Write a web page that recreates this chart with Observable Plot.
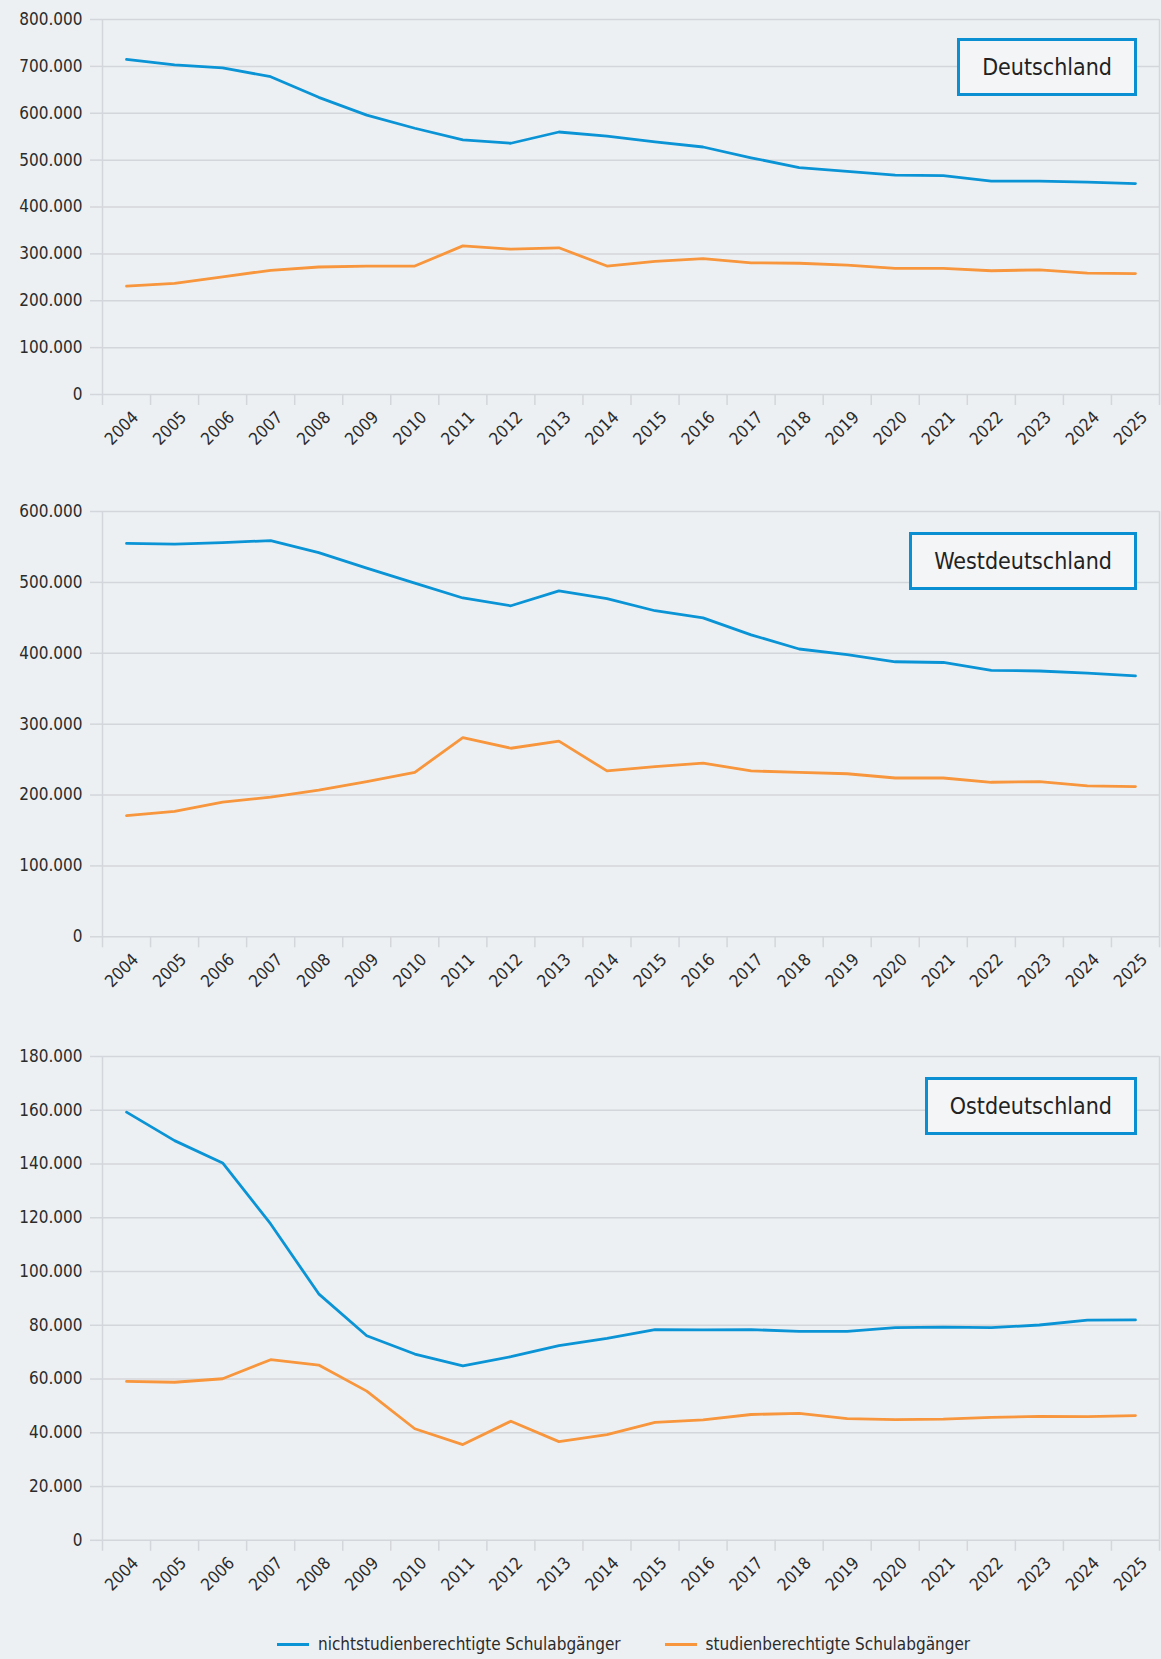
<!DOCTYPE html>
<html>
<head>
<meta charset="utf-8">
<script src="https://cdn.jsdelivr.net/npm/d3@7"></script>
<script src="https://cdn.jsdelivr.net/npm/@observablehq/plot@0.6"></script>
<style>
  html, body { margin: 0; padding: 0; background: #edf0f3; }
  #wrap { position: relative; width: 1161px; height: 1659px; background: #edf0f3; overflow: hidden;
    font-family: "DejaVu Sans Condensed", "DejaVu Sans", sans-serif; font-stretch: condensed; color: #2b2b2b; }
  .panel { position: absolute; left: 0; }
  .box { position: absolute; right: 24px; height: 52px; line-height: 52px; padding: 0 22px;
    border: 3px solid #0a90d2; background: #f4f5f6; font-size: 23px; color: #222; white-space: nowrap; }
  #legend { position: absolute; top: 1634px; left: 277px; display: flex; align-items: center; font-size: 17px; color: #2b2b2b; white-space: nowrap; }
  #legend .sw { display: inline-block; width: 32px; height: 3px; margin-right: 9px; }
  #legend .item { display: flex; align-items: center; margin-right: 44px; }
</style>
</head>
<body>
<div id="wrap"></div>
<script>
// ---- data ----
const years = [2004, 2005, 2006, 2007, 2008, 2009, 2010, 2011, 2012, 2013, 2014, 2015, 2016, 2017, 2018, 2019, 2020, 2021, 2022, 2023, 2024, 2025];
const seriesNames = ["nichtstudienberechtigte Schulabgänger", "studienberechtigte Schulabgänger"];
const seriesColors = ["#0a94d6", "#f7963c"];
const regionNames = ["Deutschland", "Westdeutschland", "Ostdeutschland"];

const deNicht = [715000, 703000, 697000, 678000, 634000, 596000, 568000, 543000, 536000, 560000, 551000, 539000, 528000, 505000, 484000, 476000, 468000, 467000, 455000, 455000, 453000, 450000];
const deStud  = [231000, 237000, 251000, 265000, 272000, 274000, 274000, 317000, 310000, 313000, 274000, 284000, 290000, 281000, 280000, 276000, 269000, 269000, 264000, 266000, 259000, 258000];

const westNicht = [555000, 554000, 556000, 559000, 542000, 520000, 499000, 478000, 467000, 488000, 477000, 460000, 450000, 426000, 406000, 398000, 388000, 387000, 376000, 375000, 372000, 368000];
const westStud  = [171000, 177000, 190000, 197000, 207000, 219000, 232000, 281000, 266000, 276000, 234000, 240000, 245000, 234000, 232000, 230000, 224000, 224000, 218000, 219000, 213000, 212000];

const ostNicht = [159300, 148700, 140400, 117700, 91700, 76100, 69300, 64900, 68300, 72400, 75100, 78400, 78300, 78400, 77700, 77700, 79100, 79300, 79100, 80100, 81900, 82000];
const ostStud  = [59100, 58800, 60100, 67200, 65200, 55500, 41500, 35600, 44300, 36700, 39300, 43900, 44800, 46800, 47200, 45300, 44900, 45100, 45700, 46100, 46000, 46400];

const deTicks   = [0, 100000, 200000, 300000, 400000, 500000, 600000, 700000, 800000];
const westTicks = [0, 100000, 200000, 300000, 400000, 500000, 600000];
const ostTicks  = [0, 20000, 40000, 60000, 80000, 100000, 120000, 140000, 160000, 180000];

// ---- layout ----
const W = 1161;
const gridColor = "#d3d6da";
const textColor = "#2b2b2b";
const fmt = d => d3.format(",")(d).replace(/,/g, ".");
const bounds = years.map(y => y - 0.5).concat([years[years.length - 1] + 0.5]);

const panels = [
  {name: regionNames[0], nicht: deNicht, stud: deStud, ticks: deTicks, gridTop: 19, gridBottom: 394, boxTop: 38},
  {name: regionNames[1], nicht: westNicht, stud: westStud, ticks: westTicks, gridTop: 510.7, gridBottom: 936, boxTop: 531.7},
  {name: regionNames[2], nicht: ostNicht, stud: ostStud, ticks: ostTicks, gridTop: 1056.2, gridBottom: 1540, boxTop: 1077}
];

const wrap = document.getElementById("wrap");
const mTop = 15, mBottom = 62;

panels.forEach(p => {
  const rows = [];
  years.forEach((y, i) => {
    rows.push({year: y, value: p.nicht[i], series: seriesNames[0]});
    rows.push({year: y, value: p.stud[i], series: seriesNames[1]});
  });
  const plotH = p.gridBottom - p.gridTop;
  const chart = Plot.plot({
    width: W,
    height: mTop + plotH + mBottom,
    marginTop: mTop,
    marginBottom: mBottom,
    marginLeft: 102,
    marginRight: 2,
    style: {background: "transparent", fontFamily: '"DejaVu Sans Condensed", "DejaVu Sans", sans-serif', fontStretch: "condensed", fontSize: "17px", color: textColor},
    x: {type: "linear", domain: [years[0] - 0.5, years[years.length - 1] + 0.5], axis: null},
    y: {domain: [0, p.ticks[p.ticks.length - 1]], axis: null},
    color: {domain: seriesNames, range: seriesColors},
    marks: [
      Plot.gridY(p.ticks, {stroke: gridColor, strokeOpacity: 1, strokeWidth: 1.5}),
      Plot.ruleX([bounds[0], bounds[bounds.length - 1]], {stroke: gridColor, strokeWidth: 1.5}),
      Plot.axisY({ticks: p.ticks, tickSize: 12, tickPadding: 8, tickFormat: fmt, stroke: gridColor, strokeWidth: 1.5, fill: textColor, label: null}),
      Plot.axisX({ticks: bounds, tickSize: 11, tickFormat: () => "", stroke: gridColor, strokeWidth: 1.5, label: null}),
      Plot.axisX({ticks: years, tickSize: 0, tickPadding: 20, dx: 9, tickRotate: -45, tickFormat: d => String(d), fill: textColor, label: null}),
      Plot.line(rows, {x: "year", y: "value", z: "series", stroke: "series", strokeWidth: 2.8, strokeLinejoin: "round"})
    ]
  });
  const div = document.createElement("div");
  div.className = "panel";
  div.style.top = (p.gridTop - mTop) + "px";
  div.appendChild(chart);
  wrap.appendChild(div);

  const box = document.createElement("div");
  box.className = "box";
  box.style.top = p.boxTop + "px";
  box.textContent = p.name;
  wrap.appendChild(box);
});

const legend = document.createElement("div");
legend.id = "legend";
seriesNames.forEach((n, i) => {
  const item = document.createElement("div");
  item.className = "item";
  const sw = document.createElement("span");
  sw.className = "sw";
  sw.style.background = seriesColors[i];
  const t = document.createElement("span");
  t.textContent = n;
  item.appendChild(sw);
  item.appendChild(t);
  legend.appendChild(item);
});
wrap.appendChild(legend);
</script>
</body>
</html>
